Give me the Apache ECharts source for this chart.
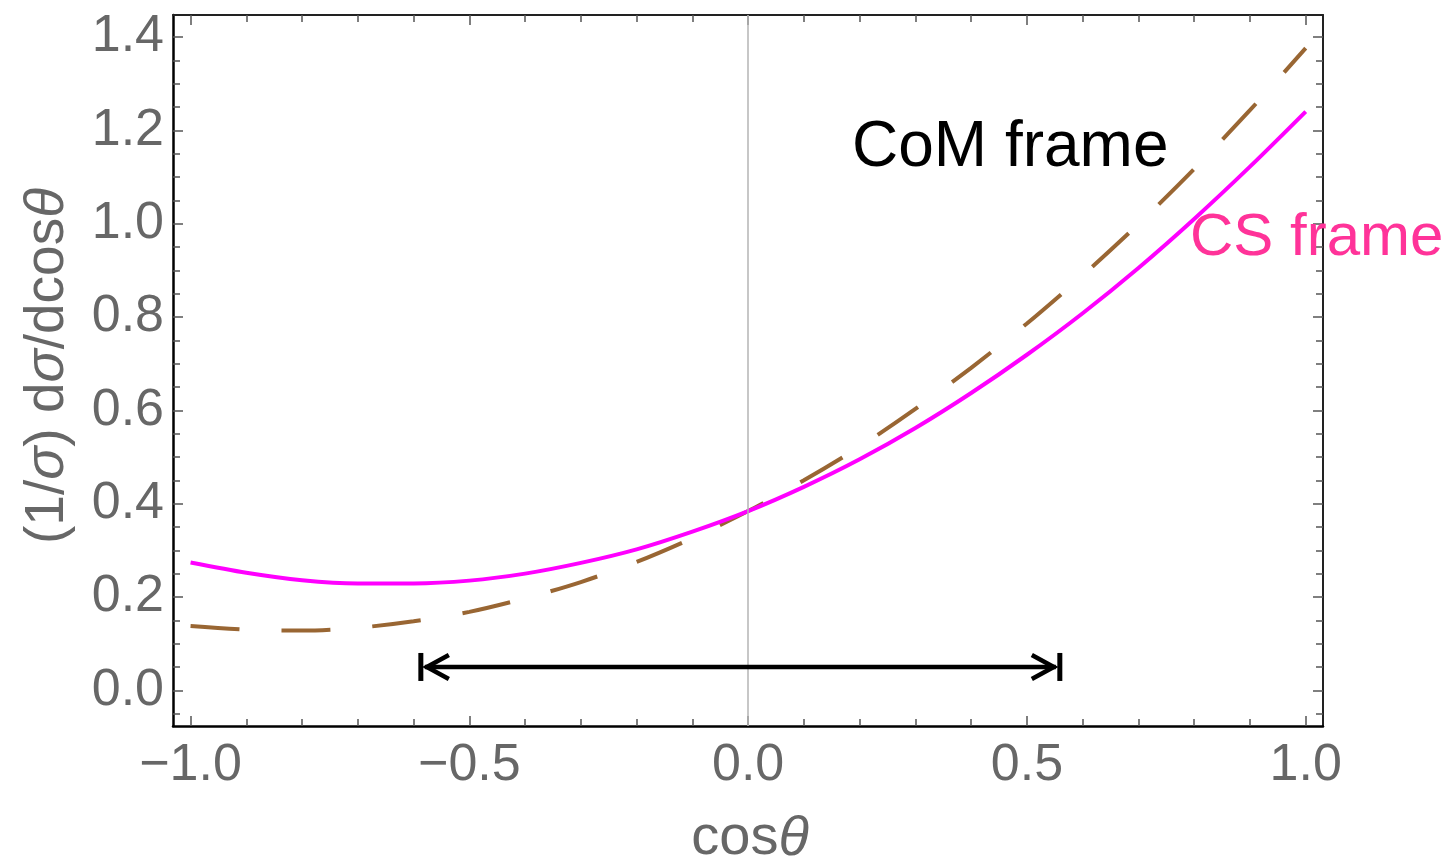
<!DOCTYPE html>
<html>
<head>
<meta charset="utf-8">
<script src="https://cdn.jsdelivr.net/npm/echarts@6/dist/echarts.min.js"></script>
<style>
html,body{margin:0;padding:0;background:#fff;}
#chart{width:1449px;height:860px;}
</style>
</head>
<body>
<div id="chart"></div>
<script>
// ---- data ----
const cosTheta = [-1.0,-0.9,-0.8,-0.7,-0.6,-0.5,-0.4,-0.3,-0.2,-0.1,0.0,0.1,0.2,0.3,0.4,0.5,0.6,0.7,0.8,0.9,1.0];
const csFrame  = [0.274,0.252,0.236,0.229,0.229,0.235,0.250,0.273,0.302,0.340,0.384,0.436,0.495,0.562,0.637,0.719,0.808,0.905,1.010,1.122,1.240];
const comFrame = [0.138,0.130,0.128,0.134,0.148,0.168,0.197,0.232,0.275,0.326,0.384,0.450,0.522,0.603,0.691,0.786,0.889,0.999,1.117,1.243,1.376];
const arrowRange = [[-0.587, 0.559, 0.05]]; // [x start, x end, y]
const xTicks = [-1.0,-0.5,0.0,0.5,1.0];
const xTickLabels = ['\u22121.0','\u22120.5','0.0','0.5','1.0'];
const xMinorTicks = [-1.0,-0.9,-0.8,-0.7,-0.6,-0.5,-0.4,-0.3,-0.2,-0.1,0.0,0.1,0.2,0.3,0.4,0.5,0.6,0.7,0.8,0.9,1.0];
const yTicks = [0.0,0.2,0.4,0.6,0.8,1.0,1.2,1.4];
const yTickLabels = ['0.0','0.2','0.4','0.6','0.8','1.0','1.2','1.4'];
const yMinorTicks = [-0.05,0.0,0.05,0.1,0.15,0.2,0.25,0.3,0.35,0.4,0.45,0.5,0.55,0.6,0.65,0.7,0.75,0.8,0.85,0.9,0.95,1.0,1.05,1.1,1.15,1.2,1.25,1.3,1.35,1.4];
const xRange = [-1.0315, 1.031];
const yRange = [-0.0765, 1.447];

const FONT = '"Liberation Sans", Arial, Helvetica, sans-serif';
const GRAY = '#676767';

function labelFor(values, labels){
  return function(v){
    for (let i=0;i<values.length;i++){ if (Math.abs(values[i]-v)<1e-6) return labels[i]; }
    return '';
  };
}

function xAxisDef(pos, major){
  const isBottom = pos==='bottom';
  return {
    type:'value', position:pos, min:xRange[0], max:xRange[1],
    axisLine:{show:major, onZero:false, lineStyle:{color:isBottom?'#000':'#222', width:isBottom?2.5:2}},
    axisTick:{show:true, inside:true, length:major?10:7, customValues: major?xTicks:xMinorTicks, lineStyle:{color:'#555', width:1.5}},
    axisLabel:{show:major&&isBottom, customValues:xTicks, formatter:labelFor(xTicks,xTickLabels), fontSize:52, fontFamily:FONT, color:GRAY, margin:14},
    splitLine:{show:false}
  };
}
function yAxisDef(pos, major){
  const isLeft = pos==='left';
  return {
    type:'value', position:pos, min:yRange[0], max:yRange[1],
    axisLine:{show:major, onZero:false, lineStyle:{color:isLeft?'#000':'#222', width:isLeft?2.5:2}},
    axisTick:{show:true, inside:true, length:major?10:7, customValues: major?yTicks:yMinorTicks, lineStyle:{color:'#555', width:1.5}},
    axisLabel:{show:major&&isLeft, customValues:yTicks, formatter:labelFor(yTicks,yTickLabels), fontSize:52, fontFamily:FONT, color:GRAY, margin:9},
    splitLine:{show:false}
  };
}

const chart = echarts.init(document.getElementById('chart'), null, {renderer:'canvas'});
const option = {
  animation:false,
  backgroundColor:'#fff',
  grid:{left:173, right:126, top:15, bottom:134, containLabel:false},
  xAxis:[xAxisDef('bottom',true), xAxisDef('bottom',false), xAxisDef('top',true), xAxisDef('top',false)],
  yAxis:[yAxisDef('left',true), yAxisDef('left',false), yAxisDef('right',true), yAxisDef('right',false)],
  series:[
    {
      type:'line', data:[], z:1, silent:true,
      markLine:{silent:true, symbol:'none', label:{show:false},
        lineStyle:{color:'#b4b4b4', width:1.5, type:'solid'},
        data:[{xAxis:0}]}
    },
    {
      name:'CoM frame', type:'line', z:3, smooth:0.3, showSymbol:false, silent:true,
      data: cosTheta.map((x,i)=>[x, comFrame[i]]),
      lineStyle:{color:'#996633', width:4, type:[49,42], cap:'butt'}
    },
    {
      name:'CS frame', type:'line', z:4, smooth:0.3, showSymbol:false, silent:true,
      data: cosTheta.map((x,i)=>[x, csFrame[i]]),
      lineStyle:{color:'#ff00ff', width:4}
    },
    {
      type:'custom', z:5, silent:true,
      data: arrowRange,
      encode:{x:[0,1], y:2},
      renderItem:function(params, api){
        const p1 = api.coord([api.value(0), api.value(2)]);
        const p2 = api.coord([api.value(1), api.value(2)]);
        const y = p1[1];
        const st = {stroke:'#000', lineWidth:4.5, fill:null, lineJoin:'miter', lineCap:'butt'};
        return {type:'group', children:[
          {type:'line', shape:{x1:p1[0]+4, y1:y, x2:p2[0]-4, y2:y}, style:st},
          {type:'line', shape:{x1:p1[0], y1:y-14, x2:p1[0], y2:y+14}, style:Object.assign({}, st, {lineWidth:5})},
          {type:'line', shape:{x1:p2[0], y1:y-14, x2:p2[0], y2:y+14}, style:Object.assign({}, st, {lineWidth:5})},
          {type:'polyline', shape:{points:[[p1[0]+28,y-12],[p1[0]+6,y],[p1[0]+28,y+12]]}, style:st},
          {type:'polyline', shape:{points:[[p2[0]-28,y-12],[p2[0]-6,y],[p2[0]-28,y+12]]}, style:st}
        ]};
      }
    }
  ],
  graphic:[
    {type:'text', z:100, left:852, top:116,
      style:{text:'CoM frame', fontSize:64, fontFamily:FONT, fill:'#000'}},
    {type:'text', z:100, left:1190, top:208,
      style:{text:'CS frame', fontSize:60, fontFamily:FONT, fill:'#ff3399'}},
    {type:'text', z:100, x:750, y:839,
      style:{text:'{a|cos}{i|\u03b8}', align:'center', verticalAlign:'middle',
        rich:{a:{fontSize:56, fontFamily:FONT, fill:GRAY}, i:{fontSize:56, fontFamily:FONT, fill:GRAY, fontStyle:'italic'}}}},
    {type:'text', z:100, x:48, y:366, rotation:Math.PI/2,
      style:{text:'{a|(1/}{i|\u03c3}{a|) d}{i|\u03c3}{a|/dcos}{i|\u03b8}', align:'center', verticalAlign:'middle',
        rich:{a:{fontSize:55, fontFamily:FONT, fill:GRAY}, i:{fontSize:55, fontFamily:FONT, fill:GRAY, fontStyle:'italic'}}}}
  ]
};
chart.setOption(option);
</script>
</body>
</html>
